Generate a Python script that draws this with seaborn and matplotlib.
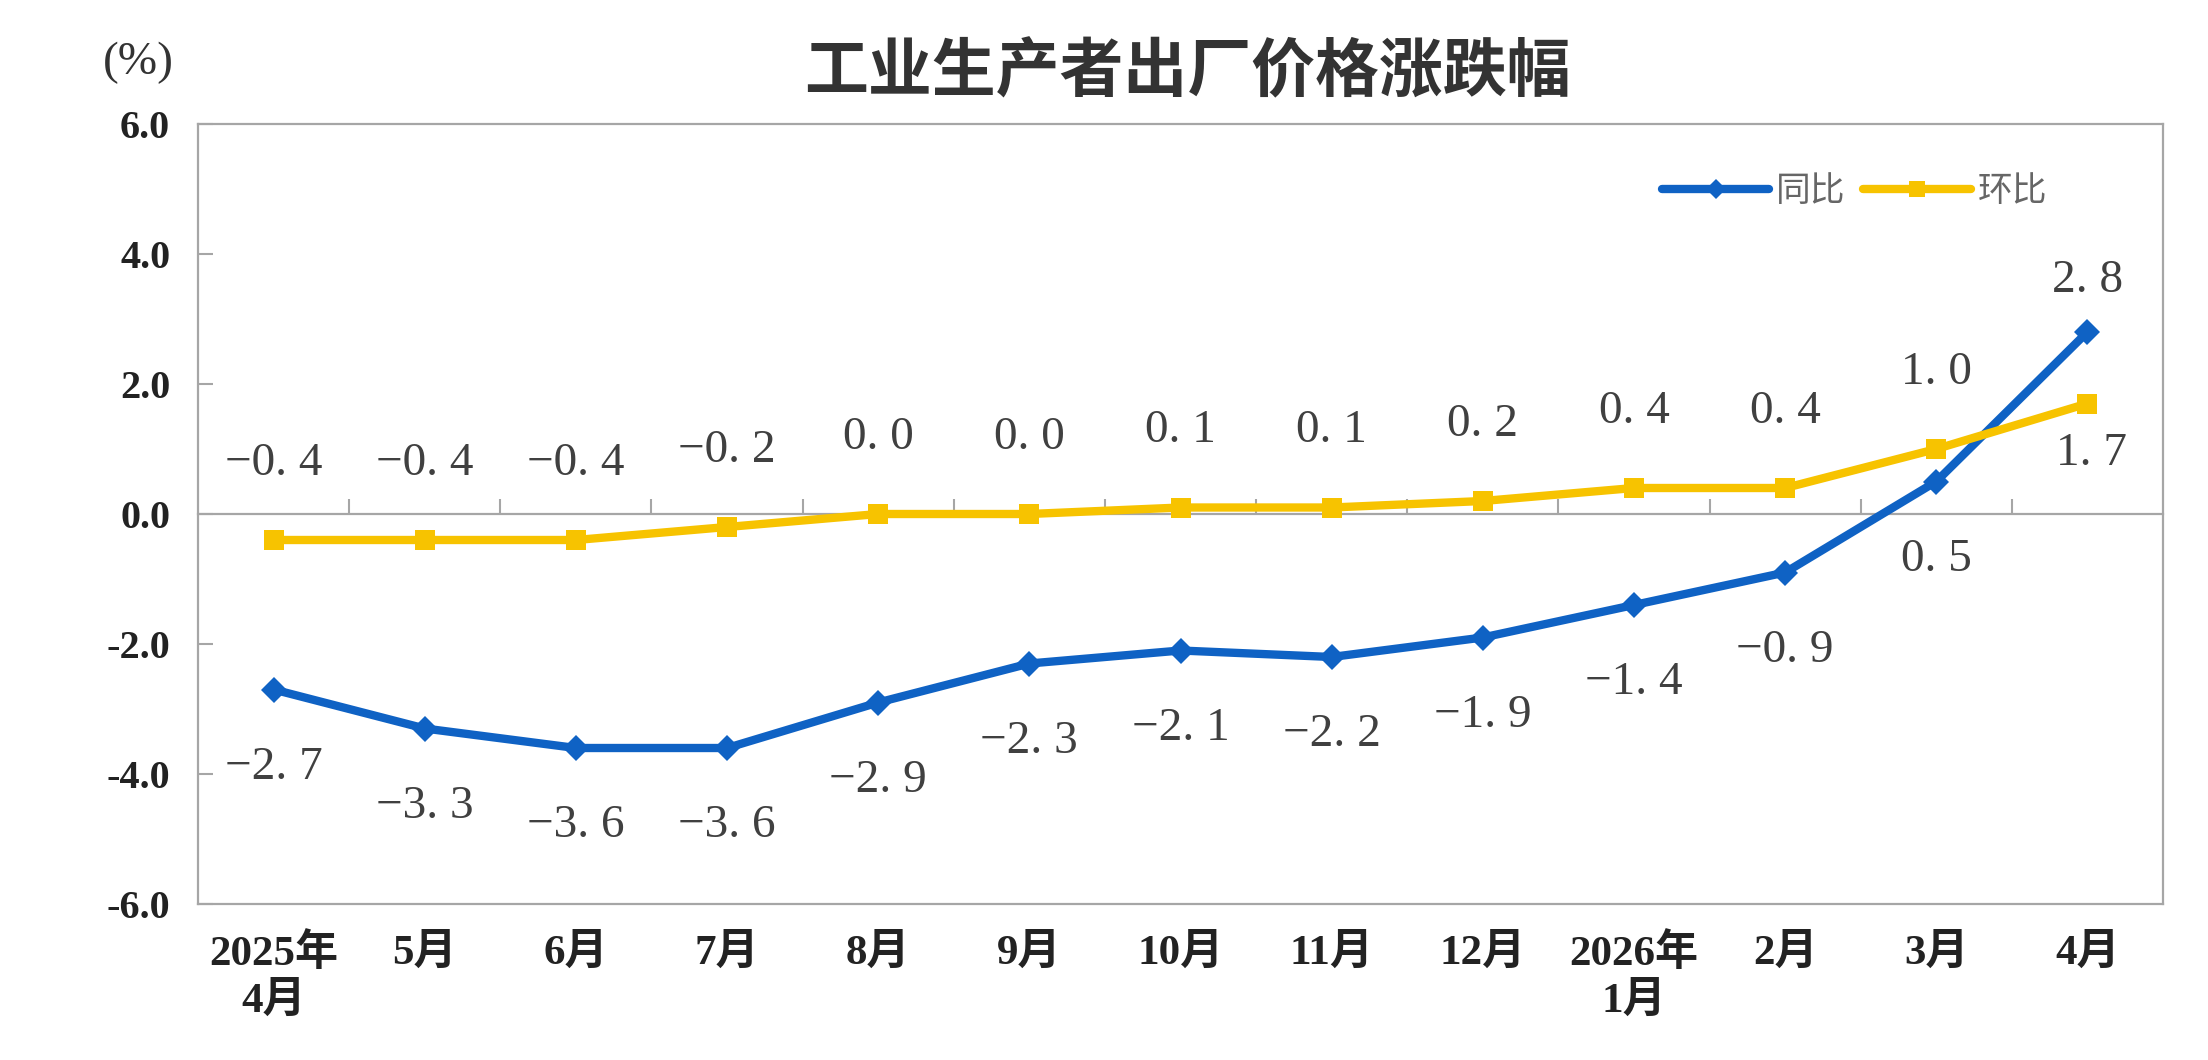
import numpy as np
import matplotlib
matplotlib.use("Agg")
import matplotlib.pyplot as plt
import seaborn as sns

# data
months = ["2025年\n4月", "5月", "6月", "7月", "8月", "9月", "10月", "11月",
          "12月", "2026年\n1月", "2月", "3月", "4月"]
yoy = [-2.7, -3.3, -3.6, -3.6, -2.9, -2.3, -2.1, -2.2, -1.9, -1.4, -0.9, 0.5, 2.8]
mom = [-0.4, -0.4, -0.4, -0.2, 0.0, 0.0, 0.1, 0.1, 0.2, 0.4, 0.4, 1.0, 1.7]
yticks = [-6.0, -4.0, -2.0, 0.0, 2.0, 4.0, 6.0]

BLUE = "#0F62C4"
GOLD = "#F7C300"
GRAY = "#A6A6A6"

sns.set_theme(style="white")
plt.rcParams['font.family'] = ['Liberation Serif', 'Noto Sans CJK SC']
plt.rcParams['axes.unicode_minus'] = False

fig = plt.figure(figsize=(22.08, 10.6), dpi=100)
ax = fig.add_axes([198 / 2208, 1 - 904 / 1060, (2163 - 198) / 2208, 780 / 1060])

x = np.arange(len(months))
sns.lineplot(x=x, y=yoy, ax=ax, color=BLUE, linewidth=6, marker="D",
             markersize=13, markeredgewidth=0, label="同比")
sns.lineplot(x=x, y=mom, ax=ax, color=GOLD, linewidth=6, marker="s",
             markersize=15, markeredgewidth=0, label="环比")


def fmt(v):
    return f"{v:.1f}".replace("-", "−").replace(".", ". ")


last = len(months) - 1
for i, v in enumerate(yoy):
    off = 37 if i == last else -56
    ax.annotate(fmt(v), (i, v), xytext=(0, off), textcoords="offset points",
                ha="center", va="center", fontsize=34, color="#404040",
                family="Liberation Serif")
for i, v in enumerate(mom):
    off = -36 if i == last else 55
    ax.annotate(fmt(v), (i, v), xytext=(3 if i == last else 0, off),
                textcoords="offset points", ha="center", va="center",
                fontsize=34, color="#404040", family="Liberation Serif")

ax.set_xlim(-0.5, len(months) - 0.5)
ax.set_ylim(yticks[0], yticks[-1])
ax.set_xticks(x)
ax.set_xticklabels(months, linespacing=1.25)
ax.set_yticks(yticks)
ax.set_yticklabels([f"{t:.1f}" for t in yticks])
ax.tick_params(axis="x", length=0, pad=21, labelsize=31, labelcolor="#222222")
ax.tick_params(axis="y", direction="in", length=11, width=1.5, color=GRAY,
               pad=20, labelsize=29, labelcolor="#222222", left=True)
for lab in ax.get_xticklabels() + ax.get_yticklabels():
    lab.set_fontweight("bold")
ax.set_xlabel("")
ax.set_ylabel("")

for sp in ax.spines.values():
    sp.set_visible(True)
    sp.set_color(GRAY)
    sp.set_linewidth(1.6)

# zero line with category boundary ticks
zero = ax.secondary_xaxis(0.5)
zero.set_xticks(np.arange(0.5, len(months) - 1, 1.0))
zero.tick_params(axis="x", direction="out", length=11, width=1.5,
                 color=GRAY, labeltop=False, labelbottom=False)
zero.spines["top"].set_color(GRAY)
zero.spines["top"].set_linewidth(1.6)

leg = ax.legend(loc="center right", bbox_to_anchor=(0.957, 0.913), ncol=2,
                frameon=False, handlelength=3.1, handletextpad=0.2,
                columnspacing=0.5, markerscale=0.8,
                prop={"family": "Noto Sans CJK SC", "size": 25})
for t in leg.get_texts():
    t.set_color("#666666")

fig.text(1187 / 2208, 1 - 73 / 1060, "工业生产者出厂价格涨跌幅", ha="center",
         va="center", fontsize=46, fontweight="bold", color="#333333",
         family="Noto Sans CJK SC")
fig.text(138 / 2208, 1 - 63 / 1060, "(%)", ha="center", va="center",
         fontsize=34, color="#333333")

fig.savefig("out.png", dpi=100, facecolor="white")
